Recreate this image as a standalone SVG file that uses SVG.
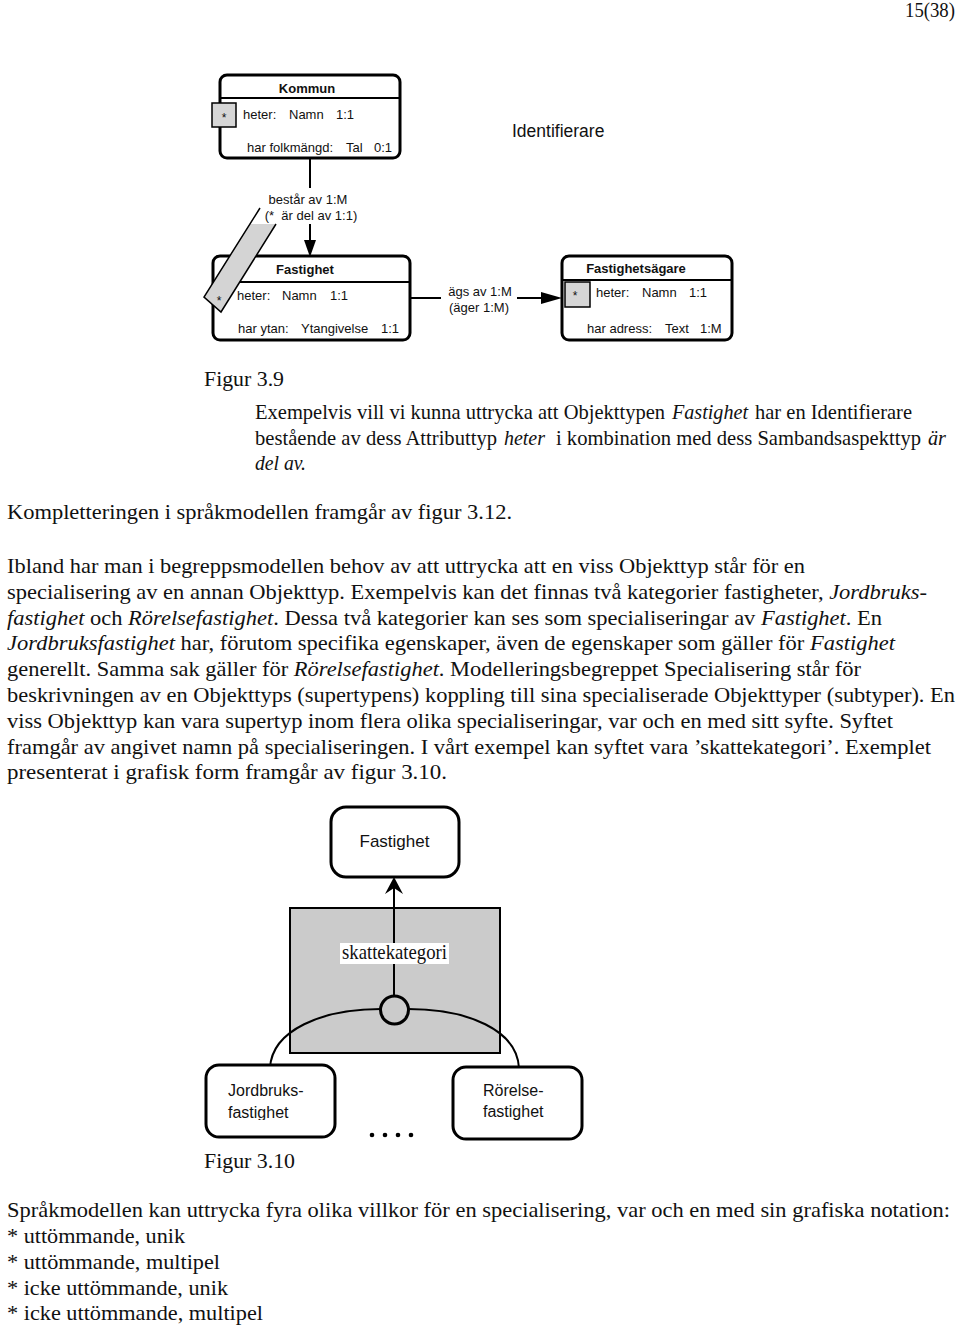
<svg xmlns="http://www.w3.org/2000/svg" width="960" height="1327" viewBox="0 0 960 1327">
<style>
.sans{font-family:"Liberation Sans",Arial,sans-serif;fill:#111}
.b{font-weight:bold}
.ser{font-family:"Liberation Serif","Times New Roman",serif;fill:#111;font-size:21px}
.it{font-style:italic}
.box{fill:#fff;stroke:#000;stroke-width:3}
.star{fill:#d6d6d6;stroke:#000;stroke-width:1.5}
.ln{stroke:#000;stroke-width:2;fill:none}
</style>
<defs>
<clipPath id="clipJ"><rect x="200" y="1060" width="140" height="60"/></clipPath>
</defs>

<text class="ser" x="905" y="17" font-size="20" textLength="50" lengthAdjust="spacingAndGlyphs">15(38)</text>

<!-- Figure 3.9 -->
<g id="kommun">
<rect class="box" x="220" y="75" width="180" height="83" rx="7"/>
<line class="ln" x1="220" y1="98" x2="400" y2="98"/>
<text class="sans b" x="307" y="93" font-size="13" text-anchor="middle">Kommun</text>
<rect class="star" x="212" y="103" width="24" height="24"/>
<text class="sans" x="224" y="122" font-size="12" text-anchor="middle">*</text>
<text class="sans" x="243" y="119" font-size="13">heter:</text>
<text class="sans" x="289" y="119" font-size="13">Namn</text>
<text class="sans" x="336" y="119" font-size="13">1:1</text>
<text class="sans" x="247" y="152" font-size="13">har folkmängd:</text>
<text class="sans" x="346" y="152" font-size="13">Tal</text>
<text class="sans" x="374" y="152" font-size="13">0:1</text>
</g>

<text class="sans" x="512" y="137" font-size="17.5">Identifierare</text>

<g id="fastighet">
<rect class="box" x="213" y="256" width="197" height="84" rx="7"/>
<line class="ln" x1="213" y1="282" x2="410" y2="282"/>
<text class="sans b" x="305" y="274" font-size="13" text-anchor="middle">Fastighet</text>
<text class="sans" x="237" y="300" font-size="13">heter:</text>
<text class="sans" x="282" y="300" font-size="13">Namn</text>
<text class="sans" x="330" y="300" font-size="13">1:1</text>
<text class="sans" x="238" y="333" font-size="13">har ytan:</text>
<text class="sans" x="301" y="333" font-size="13">Ytangivelse</text>
<text class="sans" x="381" y="333" font-size="13">1:1</text>
</g>

<g id="fastighetsagare">
<rect class="box" x="562" y="256" width="170" height="84" rx="7"/>
<line class="ln" x1="562" y1="280" x2="732" y2="280"/>
<text class="sans b" x="636" y="273" font-size="13" text-anchor="middle">Fastighetsägare</text>
<rect class="star" x="565" y="282" width="25" height="25"/>
<text class="sans" x="575" y="300" font-size="12" text-anchor="middle">*</text>
<text class="sans" x="596" y="297" font-size="13">heter:</text>
<text class="sans" x="642" y="297" font-size="13">Namn</text>
<text class="sans" x="689" y="297" font-size="13">1:1</text>
<text class="sans" x="587" y="333" font-size="13">har adress:</text>
<text class="sans" x="665" y="333" font-size="13">Text</text>
<text class="sans" x="700" y="333" font-size="13">1:M</text>
</g>

<g id="connectors">
<line class="ln" x1="310" y1="158" x2="310" y2="188"/>
<line class="ln" x1="310" y1="224" x2="310" y2="244"/>
<polygon points="304,240 316,240 310,257" fill="#000"/>
<text class="sans" x="308" y="204" font-size="13" text-anchor="middle">består av 1:M</text>
<text class="sans" x="311" y="220" font-size="13" text-anchor="middle" xml:space="preserve">(*  är del av 1:1)</text>
<line class="ln" x1="410" y1="298" x2="441" y2="298"/>
<line class="ln" x1="517" y1="298" x2="548" y2="298"/>
<polygon points="541,292 541,304 562,298" fill="#000"/>
<text class="sans" x="480" y="296" font-size="13" text-anchor="middle">ägs av 1:M</text>
<text class="sans" x="479" y="312" font-size="13" text-anchor="middle">(äger 1:M)</text>
</g>

<g id="identifier-band">
<polygon points="250,224 276,224 221,312 204,297" fill="#d4d4d4"/>
<polyline points="260,208 204,297 221,312 276,224" fill="none" stroke="#000" stroke-width="1.5"/>
<text class="sans" x="219" y="305" font-size="12" text-anchor="middle">*</text>
</g>

<!-- Text -->
<text class="ser" x="204" y="386" textLength="80" lengthAdjust="spacingAndGlyphs">Figur 3.9</text>
<text class="ser" x="255" y="419" textLength="410" lengthAdjust="spacingAndGlyphs">Exempelvis vill vi kunna uttrycka att Objekttypen</text>
<text class="ser it" x="672" y="419" textLength="76" lengthAdjust="spacingAndGlyphs">Fastighet</text>
<text class="ser" x="755" y="419" textLength="157" lengthAdjust="spacingAndGlyphs">har en Identifierare</text>
<text class="ser" x="255" y="445" textLength="242" lengthAdjust="spacingAndGlyphs">bestående av dess Attributtyp</text>
<text class="ser it" x="504" y="445" textLength="41" lengthAdjust="spacingAndGlyphs">heter</text>
<text class="ser" x="556" y="445" textLength="365" lengthAdjust="spacingAndGlyphs">i kombination med dess Sambandsaspekttyp</text>
<text class="ser it" x="928" y="445" textLength="18" lengthAdjust="spacingAndGlyphs">är</text>
<text class="ser it" x="255" y="470" textLength="51" lengthAdjust="spacingAndGlyphs">del av.</text>
<text class="ser" x="7" y="519" textLength="505" lengthAdjust="spacingAndGlyphs">Kompletteringen i språkmodellen framgår av figur 3.12.</text>

<text class="ser" x="7" y="573" textLength="798" lengthAdjust="spacingAndGlyphs">Ibland har man i begreppsmodellen behov av att uttrycka att en viss Objekttyp står för en</text>
<text class="ser" x="7" y="599" textLength="920" lengthAdjust="spacingAndGlyphs">specialisering av en annan Objekttyp. Exempelvis kan det finnas två kategorier fastigheter, <tspan class="it">Jordbruks-</tspan></text>
<text class="ser" x="7" y="625" textLength="875" lengthAdjust="spacingAndGlyphs"><tspan class="it">fastighet</tspan> och <tspan class="it">Rörelsefastighet</tspan>. Dessa två kategorier kan ses som specialiseringar av <tspan class="it">Fastighet</tspan>. En</text>
<text class="ser" x="7" y="650" textLength="888" lengthAdjust="spacingAndGlyphs"><tspan class="it">Jordbruksfastighet</tspan> har, förutom specifika egenskaper, även de egenskaper som gäller för <tspan class="it">Fastighet</tspan></text>
<text class="ser" x="7" y="676" textLength="854" lengthAdjust="spacingAndGlyphs">generellt. Samma sak gäller för <tspan class="it">Rörelsefastighet</tspan>. Modelleringsbegreppet Specialisering står för</text>
<text class="ser" x="7" y="702" textLength="948" lengthAdjust="spacingAndGlyphs">beskrivningen av en Objekttyps (supertypens) koppling till sina specialiserade Objekttyper (subtyper). En</text>
<text class="ser" x="7" y="728" textLength="886" lengthAdjust="spacingAndGlyphs">viss Objekttyp kan vara supertyp inom flera olika specialiseringar, var och en med sitt syfte. Syftet</text>
<text class="ser" x="7" y="754" textLength="924" lengthAdjust="spacingAndGlyphs">framgår av angivet namn på specialiseringen. I vårt exempel kan syftet vara ’skattekategori’. Exemplet</text>
<text class="ser" x="7" y="779" textLength="440" lengthAdjust="spacingAndGlyphs">presenterat i grafisk form framgår av figur 3.10.</text>

<!-- Figure 3.10 -->
<g id="spec-area">
<rect x="290" y="908" width="210" height="145" fill="#cbcbcb" stroke="#000" stroke-width="2"/>
</g>
<g id="connectors2">
<line class="ln" x1="394" y1="996" x2="394" y2="882"/>
<polygon points="394,877 403,894 394,888 385,894" fill="#000"/>
<path class="ln" d="M381 1009 C322 1009 272 1030 270 1068"/>
<path class="ln" d="M408 1009 C468 1009 517 1030 519 1068"/>
</g>
<g id="skattekategori">
<rect x="340" y="943" width="109" height="21" fill="#fff"/>
<text class="ser" x="342" y="959" font-size="15" textLength="105" lengthAdjust="spacingAndGlyphs">skattekategori</text>
</g>
<g id="spec-circle">
<circle cx="394.5" cy="1010" r="14" fill="#cbcbcb" stroke="#000" stroke-width="3"/>
</g>
<g id="fastighet2">
<rect class="box" x="331" y="807" width="128" height="70" rx="15" stroke-width="3.5"/>
<text class="sans" x="394.5" y="847" font-size="17" text-anchor="middle">Fastighet</text>
</g>
<g id="jordbruk">
<rect class="box" x="206" y="1065" width="129" height="72" rx="13" stroke-width="3.5"/>
<text class="sans" x="228" y="1096" font-size="16">Jordbruks-</text>
<text class="sans" x="228" y="1118" font-size="16" clip-path="url(#clipJ)">fastighet</text>
</g>
<g id="rorelse">
<rect class="box" x="453" y="1067" width="129" height="72" rx="13" stroke-width="3.5"/>
<text class="sans" x="483" y="1096" font-size="16">Rörelse-</text>
<text class="sans" x="483" y="1117" font-size="16">fastighet</text>
</g>
<g id="dots" fill="#000">
<circle cx="372" cy="1135" r="2.3"/>
<circle cx="385" cy="1135" r="2.3"/>
<circle cx="398" cy="1135" r="2.3"/>
<circle cx="411" cy="1135" r="2.3"/>
</g>
<text class="ser" x="204" y="1168" textLength="91" lengthAdjust="spacingAndGlyphs">Figur 3.10</text>

<text class="ser" x="7" y="1217" textLength="943" lengthAdjust="spacingAndGlyphs">Språkmodellen kan uttrycka fyra olika villkor för en specialisering, var och en med sin grafiska notation:</text>
<text class="ser" x="7" y="1243" textLength="178" lengthAdjust="spacingAndGlyphs">* uttömmande, unik</text>
<text class="ser" x="7" y="1269" textLength="213" lengthAdjust="spacingAndGlyphs">* uttömmande, multipel</text>
<text class="ser" x="7" y="1295" textLength="221" lengthAdjust="spacingAndGlyphs">* icke uttömmande, unik</text>
<text class="ser" x="7" y="1320" textLength="256" lengthAdjust="spacingAndGlyphs">* icke uttömmande, multipel</text>
</svg>
